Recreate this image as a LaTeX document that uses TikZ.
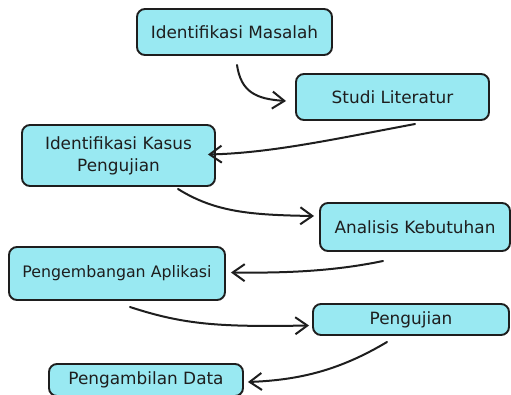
\documentclass[tikz,border=0pt]{standalone}
\usepackage{fontspec}
\setmainfont{DejaVu Sans}
\usetikzlibrary{arrows.meta,calc}
\definecolor{boxfill}{HTML}{99E9F2}
\definecolor{ink}{HTML}{1E1E1E}
\tikzset{
  stepbox/.style={draw=ink, fill=boxfill, line width=1.9pt, rounded corners=8pt,
    inner sep=0pt, align=center, text=ink, font=\fontsize{16.9}{22}\selectfont},
  flow/.style={draw=ink, line width=2pt, line cap=round,
    -{Straight Barb[length=12pt,width=17pt,line width=2pt]}}
}
\begin{document}
\begin{tikzpicture}[x=1pt,y=-1pt]
\useasboundingbox (0,0) rectangle (511,394);
\node[stepbox, minimum width=195pt, minimum height=46pt] (n1) at (234.5,32) {Identifikasi Masalah};
\node[stepbox, minimum width=193pt, minimum height=46pt] (n2) at (392.5,97) {Studi Literatur};
\node[stepbox, minimum width=193pt, minimum height=61pt] (n3) at (118.5,155.5) {Identifikasi Kasus\\Pengujian};
\node[stepbox, minimum width=190pt, minimum height=48pt] (n4) at (415,227) {Analisis Kebutuhan};
\node[stepbox, minimum width=216pt, minimum height=53pt, font=\fontsize{15.8}{22}\selectfont] (n5) at (117,273.5) {Pengembangan Aplikasi};
\node[stepbox, minimum width=196pt, minimum height=31pt] (n6) at (411,319.5) {Pengujian};
\node[stepbox, minimum width=194pt, minimum height=32pt] (n7) at (146,380) {Pengambilan Data};
% free ends
\coordinate (s1) at (237,65);
\coordinate (s2) at (415,124);
\coordinate (s3) at (178,189);
\coordinate (s4) at (383,261);
\coordinate (s5) at (130,307);
\coordinate (s6) at (387,342);
\draw[flow] (s1) .. controls (241,92) and (256,99) .. ($(n2.west)+(-9,4)$);
\draw[flow] (s2) .. controls (330,140) and (270,153) .. ($(n3.east)+(-8,-1)$);
\draw[flow] (s3) .. controls (215,212) and (250,215) .. ($(n4.west)+(-5,-11)$);
\draw[flow] (s4) .. controls (330,272) and (280,273) .. ($(n5.east)+(5,-1)$);
\draw[flow] (s5) .. controls (185,325) and (220,327) .. ($(n6.west)+(-3,6)$);
\draw[flow] (s6) .. controls (340,370) and (300,380) .. ($(n7.east)+(4,2)$);
\end{tikzpicture}
\end{document}
